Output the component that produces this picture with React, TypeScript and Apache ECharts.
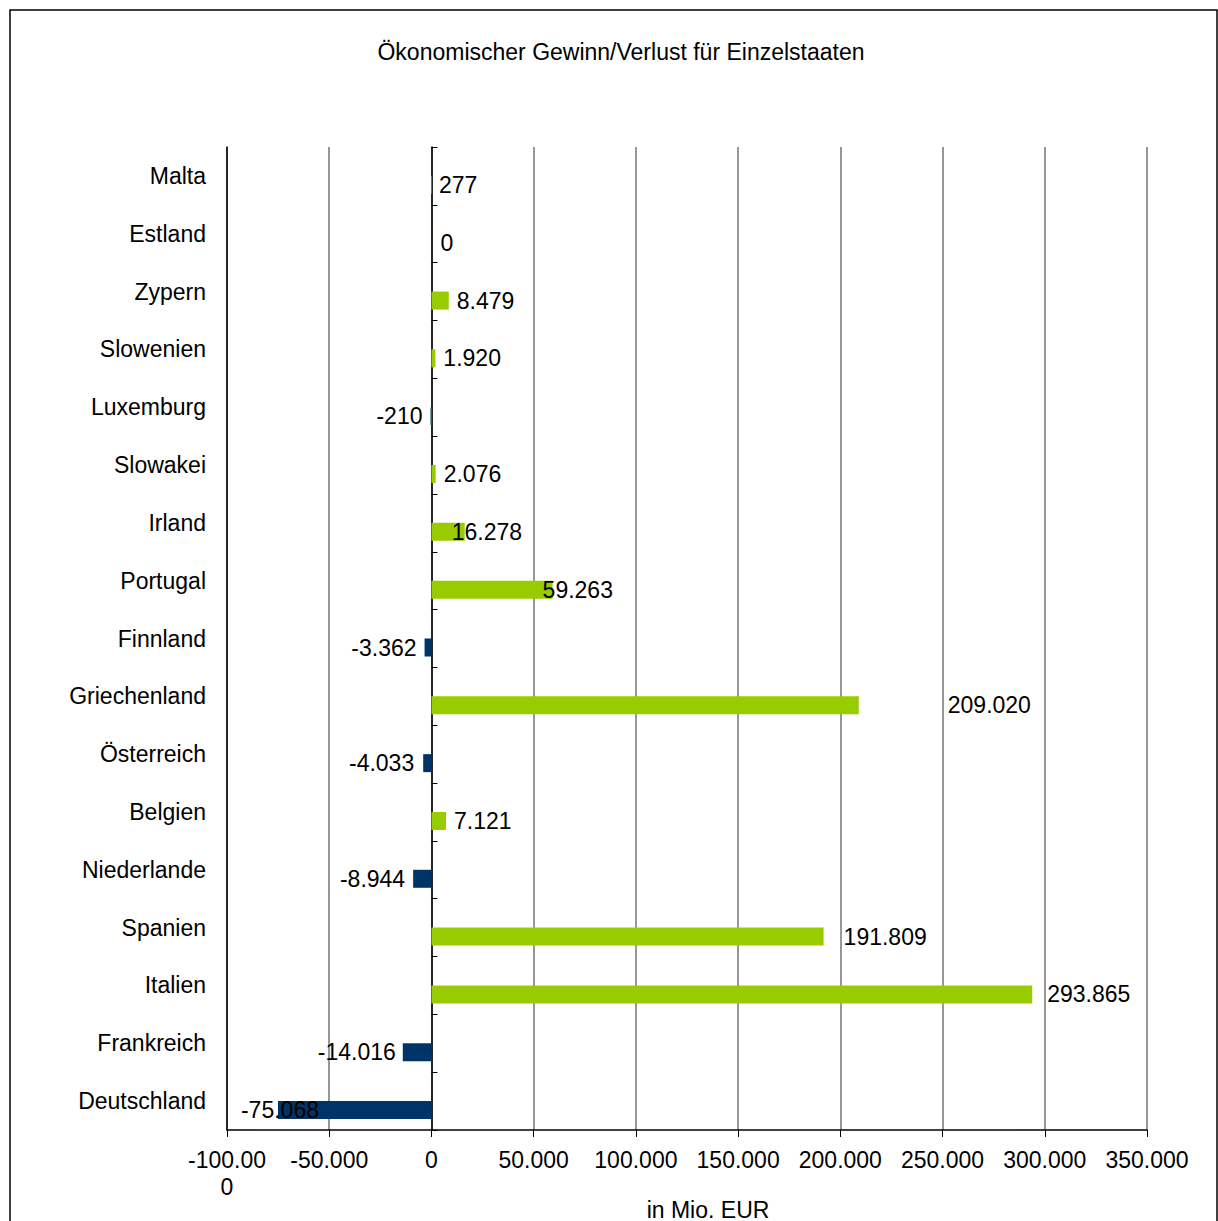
import React, { useEffect, useRef } from "react";
import * as echarts from "echarts";

const titleText = "Ökonomischer Gewinn/Verlust für Einzelstaaten";
const axisTitle = "in Mio. EUR";

// bottom to top
const countries = [
  "Deutschland", "Frankreich", "Italien", "Spanien", "Niederlande", "Belgien",
  "Österreich", "Griechenland", "Finnland", "Portugal", "Irland", "Slowakei",
  "Luxemburg", "Slowenien", "Zypern", "Estland", "Malta",
];
const values = [
  -75068, -14016, 293865, 191809, -8944, 7121,
  -4033, 209020, -3362, 59263, 16278, 2076,
  -210, 1920, 8479, 0, 277,
];
// label distance from bar end (px), mirrors the reference's label placement
const labelDistance = [
  -41, 7, 15, 20, 8, 8,
  9, 89, 8, -10, -13, 8,
  8, 8, 8, 9, 7,
];
const tickValues = [-100000, -50000, 0, 50000, 100000, 150000, 200000, 250000, 300000, 350000];

const GREEN = "#99cc00";
const NAVY = "#003366";
const TEAL = "#006666";
const FONT = "'Liberation Sans', Arial, sans-serif";
const FS = 23;

function fmt(v: number): string {
  const s = Math.abs(v).toString().replace(/\B(?=(\d{3})+(?!\d))/g, ".");
  return (v < 0 ? "-" : "") + s;
}

export default function App() {
  const ref = useRef<HTMLDivElement>(null);
  useEffect(() => {
    if (!ref.current) return;
    const chart = echarts.init(ref.current, null, { renderer: "svg" });
    const data = values.map((v, i) => {
      const small = v < 0 && v > -1000;
      return {
        value: v,
        itemStyle: {
          color: v < 0 ? (small ? TEAL : NAVY) : GREEN,
          borderColor: small ? TEAL : undefined,
          borderWidth: small ? 1.5 : 0,
        },
        label: {
          position: v < 0 ? "left" : "right",
          distance: labelDistance[i],
        },
      };
    });
    chart.setOption({
      animation: false,
      backgroundColor: "#ffffff",
      textStyle: { fontFamily: FONT },
      title: {
        text: titleText,
        left: 616,
        top: 35,
        textAlign: "center",
        textStyle: { fontFamily: FONT, fontSize: FS, fontWeight: "normal", color: "#000" },
      },
      graphic: [
        {
          type: "rect",
          shape: { x: 10, y: 10, width: 1207, height: 1230 },
          style: { fill: "none", stroke: "#000", lineWidth: 1.5 },
          z: -1,
        },
        {
          type: "text",
          x: 708,
          y: 1210,
          style: {
            text: axisTitle,
            font: `${FS}px ${FONT}`,
            fill: "#000",
            textAlign: "center",
            textVerticalAlign: "middle",
          },
        },
      ],
      grid: { left: 227, right: 71, top: 147, bottom: 91, containLabel: false },
      xAxis: {
        type: "value",
        min: tickValues[0],
        max: tickValues[tickValues.length - 1],
        interval: 50000,
        axisLine: { show: true, onZero: false, lineStyle: { color: "#000", width: 1.5 } },
        axisTick: { show: true, length: 7, lineStyle: { color: "#000" } },
        splitLine: { show: true, lineStyle: { color: "#767676", width: 1.5 } },
        axisLabel: {
          margin: 16,
          fontSize: FS,
          color: "#000",
          fontFamily: FONT,
          lineHeight: 27,
          verticalAlign: "top",
          formatter: (v: number) => {
            const s = fmt(v);
            return s.length > 7 ? s.slice(0, 7) + "\n" + s.slice(7) : s;
          },
        },
      },
      yAxis: [
        {
          type: "category",
          data: countries,
          position: "left",
          axisLine: { show: true, onZero: false, lineStyle: { color: "#000", width: 1.5 } },
          axisTick: { show: false },
          axisLabel: { margin: 21, fontSize: FS, color: "#000", fontFamily: FONT },
        },
        {
          type: "category",
          data: countries,
          axisLine: { show: true, onZero: true, lineStyle: { color: "#000", width: 1.5 } },
          axisTick: { show: true, length: 6, lineStyle: { color: "#000" } },
          axisLabel: { show: false },
        },
      ],
      series: [
        {
          type: "bar",
          yAxisIndex: 0,
          data: values.map(() => "-"),
          barWidth: 18,
          barGap: "0%",
          silent: true,
        },
        {
          type: "bar",
          yAxisIndex: 0,
          data,
          barWidth: 18,
          barGap: "0%",
          label: {
            show: true,
            fontSize: FS,
            color: "#000",
            fontFamily: FONT,
            formatter: (p: any) => fmt(p.value),
          },
        },
      ],
    });
    return () => chart.dispose();
  }, []);
  return (
    <div
      ref={ref}
      style={{ position: "absolute", left: 0, top: 0, width: 1218, height: 1221 }}
    />
  );
}
